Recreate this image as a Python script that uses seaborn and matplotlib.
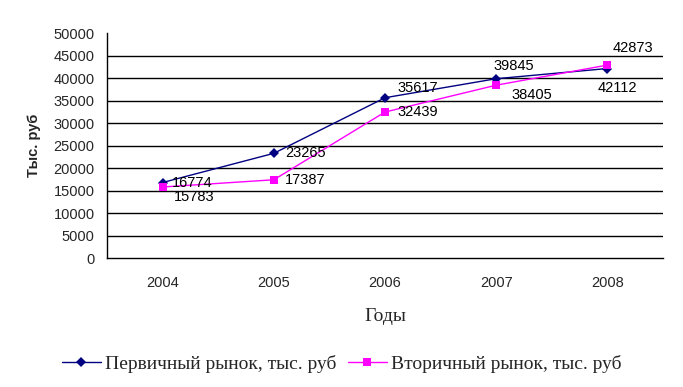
import matplotlib
matplotlib.use("Agg")
import matplotlib.pyplot as plt
import pandas as pd
import seaborn as sns
from matplotlib.ticker import FixedLocator, NullFormatter

years = [2004, 2005, 2006, 2007, 2008]
primary = [16774, 23265, 35617, 39845, 42112]
secondary = [15783, 17387, 32439, 38405, 42873]
primary_name = "Первичный рынок, тыс. руб"
secondary_name = "Вторичный рынок, тыс. руб"

# label offsets in points (dx, dy)
primary_offsets = [(7, 0), (8, 0), (9, 7), (-2, 9), (-7, -14)]
secondary_offsets = [(8, -7), (8, 0), (9, 0), (11, -7), (4, 12)]

df = pd.DataFrame({
    "year": years * 2,
    "value": primary + secondary,
    "series": [primary_name] * len(years) + [secondary_name] * len(years),
})

sns.set_style("white")
plt.rcParams["font.family"] = ["Liberation Sans", "DejaVu Sans"]

fig = plt.figure(figsize=(6.83, 3.87), dpi=100)
ax = fig.add_axes([0.1567, 0.3333, 0.814, 0.5814])

sns.lineplot(data=df, x="year", y="value", hue="series", style="series",
             palette={primary_name: "#000080", secondary_name: "#FF00FF"},
             markers={primary_name: "D", secondary_name: "s"},
             dashes=False, linewidth=1, markersize=5.5, markeredgewidth=0,
             ax=ax, legend=True)

ax.set_xlim(2003.5, 2008.5)
ax.set_ylim(0, 50000)
ax.set_yticks(range(0, 50001, 5000))
ax.xaxis.set_major_locator(FixedLocator([y - 0.5 for y in years] + [years[-1] + 0.5]))
ax.xaxis.set_major_formatter(NullFormatter())
ax.set_xticks(years, minor=True)
ax.set_xticklabels([str(y) for y in years], minor=True)
ax.tick_params(axis="x", which="minor", length=0, pad=13, labelsize=10.5)
ax.tick_params(axis="x", which="major", length=5, direction="out", color="black", width=1)
ax.tick_params(axis="y", length=5, direction="out", color="black", width=1, labelsize=10.5, pad=4)

for gy in range(5000, 50000, 5000):
    ax.axhline(gy, color="black", linewidth=1, zorder=0)

for side in ["top", "right"]:
    ax.spines[side].set_visible(False)
for side in ["left", "bottom"]:
    ax.spines[side].set_color("black")
    ax.spines[side].set_linewidth(1)

for data, offsets in [(primary, primary_offsets), (secondary, secondary_offsets)]:
    for x, v, (dx, dy) in zip(years, data, offsets):
        ax.annotate(str(v), (x, v), xytext=(dx, dy), textcoords="offset points",
                    ha="left", va="center", fontsize=10.5, color="black")

ax.set_ylabel("Тыс. руб", fontsize=10.5, fontweight="bold", labelpad=9)
ax.set_xlabel("Годы", fontsize=14, family=["Liberation Serif", "DejaVu Serif"], labelpad=13)

handles, labels = ax.get_legend_handles_labels()
ax.get_legend().remove()
fig.legend(handles, labels, loc="center", bbox_to_anchor=(0.5, 0.06), ncol=2,
           frameon=False, prop={"family": ["Liberation Serif", "DejaVu Serif"], "size": 14},
           handlelength=2.0, handletextpad=0.2, columnspacing=0.6)

fig.savefig("out.png", dpi=100)
